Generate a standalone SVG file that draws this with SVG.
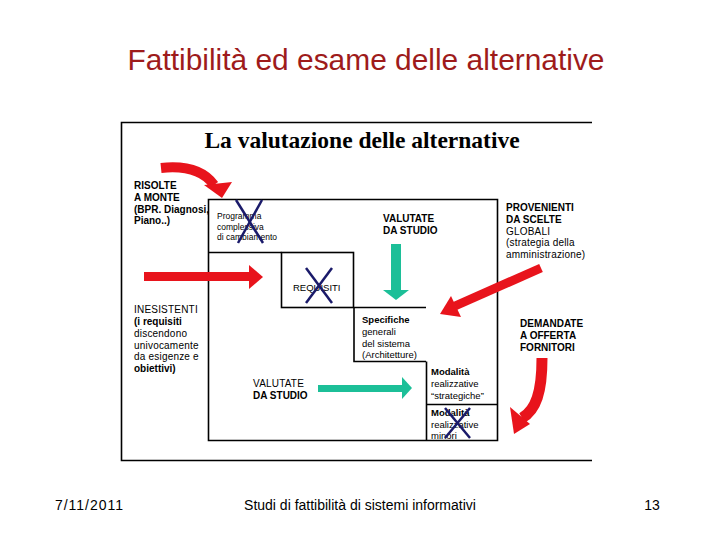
<svg xmlns="http://www.w3.org/2000/svg" width="720" height="540" viewBox="0 0 720 540">
<style>
.t{font-family:"Liberation Sans",Arial,sans-serif;fill:#000}
.lb{font-size:10px;font-weight:bold}
.lr{font-size:10px;letter-spacing:0.2px}
.sm{font-size:9.5px}
.ln{stroke:#000;stroke-width:1.6;fill:none}
.red{fill:#e8141c}
.teal{fill:#1cbf98}
.x{stroke:#1a1a6a;stroke-width:2.5}
.ft{font-family:"Liberation Sans",Arial,sans-serif;font-size:14px;fill:#000}
</style>
<rect width="720" height="540" fill="#fff"/>
<text x="366" y="70" text-anchor="middle" font-family="Liberation Sans,Arial,sans-serif" font-size="29" fill="#9e1b1b" textLength="477" lengthAdjust="spacingAndGlyphs">Fattibilità ed esame delle alternative</text>

<g id="frame">
<path class="ln" d="M592,122.5 H121.5 V460.5 H592"/>
<text x="362" y="148" text-anchor="middle" font-family="Liberation Serif,Times New Roman,serif" font-size="23.5" font-weight="bold">La valutazione delle alternative</text>
</g>

<g id="structure">
<path class="ln" d="M208.5,199.5 H497.5 V440.5 H208.5 Z"/>
<path class="ln" d="M208.5,252.5 H281.5"/>
</g>

<g id="programma">
<text class="t" font-size="8.5" x="217" y="219">Programma</text>
<text class="t" font-size="8.5" x="217" y="230">complessiva</text>
<text class="t" font-size="8.5" x="217" y="240">di cambiamento</text>
</g>

<g id="requisiti">
<rect class="ln" x="281.5" y="252.5" width="72" height="55"/>
<text class="t" font-size="9.5" x="293" y="291">REQUISITI</text>
</g>

<g id="specifiche">
<path class="ln" d="M353.5,307.5 H426 M354,307.5 V361.5 H426"/>
<text class="t sm" font-weight="bold" x="362" y="323">Specifiche</text>
<text class="t sm" x="362" y="335">generali</text>
<text class="t sm" x="362" y="347">del sistema</text>
<text class="t sm" x="362" y="358">(Architetture)</text>
</g>

<g id="strategiche">
<path class="ln" d="M426.5,361.5 V440 M426.5,404.5 H498"/>
<text class="t sm" font-weight="bold" x="431" y="375">Modalità</text>
<text class="t sm" x="431" y="387">realizzative</text>
<text class="t sm" x="431" y="399">“strategiche”</text>
</g>

<g id="minori">
<text class="t sm" font-weight="bold" x="431" y="416">Modalità</text>
<text class="t sm" x="431" y="428">realizzative</text>
<text class="t sm" x="431" y="439">minori</text>
</g>

<g id="labels">
<text class="t lb" x="134" y="189">RISOLTE</text>
<text class="t lb" x="134" y="201">A MONTE</text>
<text class="t lb" x="134" y="213">(BPR. Diagnosi,</text>
<text class="t lb" x="134" y="224">Piano..)</text>

<text class="t lr" x="134" y="313">INESISTENTI</text>
<text class="t lb" x="134" y="325">(i requisiti</text>
<text class="t lr" x="134" y="337">discendono</text>
<text class="t lr" x="134" y="349">univocamente</text>
<text class="t lr" x="134" y="360">da esigenze e</text>
<text class="t lb" x="134" y="372">obiettivi)</text>

<text class="t lb" x="383" y="222">VALUTATE</text>
<text class="t lb" x="383" y="234">DA STUDIO</text>

<text class="t lr" x="253" y="387">VALUTATE</text>
<text class="t lb" x="253" y="399">DA STUDIO</text>

<text class="t lb" x="506" y="211">PROVENIENTI</text>
<text class="t lb" x="506" y="223">DA SCELTE</text>
<text class="t lr" x="506" y="235">GLOBALI</text>
<text class="t lr" x="506" y="246">(strategia della</text>
<text class="t lr" x="506" y="258">amministrazione)</text>

<text class="t lb" x="520" y="327">DEMANDATE</text>
<text class="t lb" x="520" y="339">A OFFERTA</text>
<text class="t lb" x="520" y="351">FORNITORI</text>
</g>

<g id="connectors">
<path d="M161,168 Q199,164 214,185" fill="none" stroke="#e8141c" stroke-width="10"/>
<polygon class="red" points="204,185 232,182 222,198"/>

<rect class="red" x="144" y="272" width="107" height="9"/>
<polygon class="red" points="249,265 263,277 249,289"/>

<line x1="541" y1="268" x2="455" y2="306" stroke="#e8141c" stroke-width="9"/>
<polygon class="red" points="440,314 451,296 461,317"/>

<path d="M542,358 C542,392 536,410 522,418" fill="none" stroke="#e8141c" stroke-width="11"/>
<polygon class="red" points="510,407 530,424 514,434"/>

<rect class="teal" x="391" y="244" width="10" height="47"/>
<polygon class="teal" points="383,290 409,290 396,300"/>

<rect class="teal" x="318" y="385" width="86" height="7"/>
<polygon class="teal" points="402,377 412,388 402,399"/>

<line class="x" x1="236" y1="200" x2="263" y2="243"/>
<line class="x" x1="262" y1="200" x2="238" y2="243"/>
<line class="x" x1="306" y1="268" x2="332" y2="303"/>
<line class="x" x1="332" y1="268" x2="306" y2="303"/>
<line class="x" x1="445" y1="408" x2="470" y2="438"/>
<line class="x" x1="470" y1="408" x2="445" y2="438"/>
</g>

<g id="footer">
<text class="ft" x="55" y="510" textLength="68" lengthAdjust="spacing">7/11/2011</text>
<text class="ft" x="360" y="510" text-anchor="middle">Studi di fattibilità di sistemi informativi</text>
<text class="ft" x="652" y="510" text-anchor="middle">13</text>
</g>
</svg>
